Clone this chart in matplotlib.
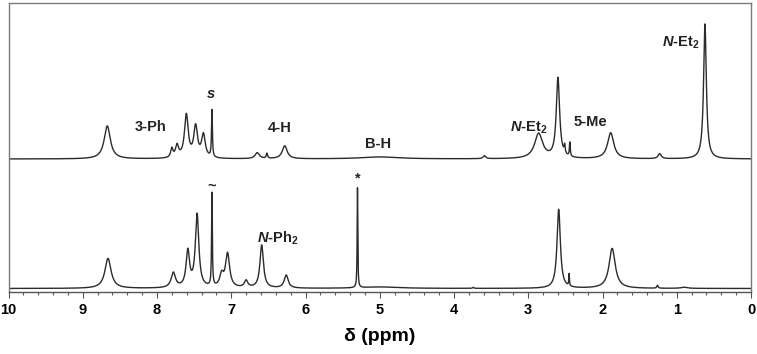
import matplotlib
matplotlib.use('Agg')
import matplotlib.pyplot as plt
import numpy as np
from matplotlib.ticker import MultipleLocator

plt.rcParams['font.family'] = ['Liberation Sans', 'DejaVu Sans']
plt.rcParams['mathtext.fontset'] = 'custom'
plt.rcParams['mathtext.rm'] = 'Liberation Sans:bold'
plt.rcParams['mathtext.it'] = 'Liberation Sans:bold:italic'
plt.rcParams['mathtext.bf'] = 'Liberation Sans:bold'

# peak lists: shift (ppm), height (px), half width (ppm)
top_ppm    = [8.67, 7.80, 7.73, 7.605, 7.48, 7.375, 7.26, 6.65, 6.52, 6.28, 5.00, 3.59, 2.86, 2.60, 2.51, 2.44, 1.89, 1.23, 0.62]
top_height = [33, 9, 12, 43, 31, 23, 47, 6, 5, 13, 2, 3, 25, 80, 8, 14, 26, 5, 135]
top_width  = [0.05, 0.018, 0.025, 0.03, 0.03, 0.03, 0.007, 0.035, 0.01, 0.04, 0.3, 0.02, 0.065, 0.027, 0.008, 0.007, 0.05, 0.025, 0.022]

bot_ppm    = [8.66, 7.78, 7.585, 7.46, 7.26, 7.13, 7.05, 6.80, 6.59, 6.26, 5.30, 5.00, 3.74, 2.59, 2.45, 1.87, 1.26, 0.90]
bot_height = [30, 15, 36, 73, 93, 12, 34, 7, 43, 13, 100, 1.5, 1, 79, 12, 40, 3, 1.2]
bot_width  = [0.05, 0.035, 0.028, 0.028, 0.006, 0.03, 0.033, 0.028, 0.028, 0.032, 0.005, 0.3, 0.01, 0.027, 0.005, 0.05, 0.01, 0.05]

top_offset = 132.5
bot_offset = 3.0

# annotations: text, ppm, height
labels = [
    ('3-Ph', 8.09, 164.5),
    ('$s$', 7.27, 197.5),
    ('4-H', 6.35, 163.5),
    ('B-H', 5.02, 147.5),
    ('$N$-Et$_2$', 3.00, 163.5),
    ('5-Me', 2.16, 169.5),
    ('$N$-Et$_2$', 0.94, 248.5),
    ('~', 7.26, 105.5),
    ('*', 5.30, 113.5),
    ('$N$-Ph$_2$', 6.37, 53.5),
]


def spectrum(x, ppm, height, width):
    y = np.zeros_like(x)
    for p, h, w in zip(ppm, height, width):
        y += h * w**2 / ((x - p)**2 + w**2)
    return y


x = np.linspace(10, 0, 20001)

fig = plt.figure(figsize=(7.57, 3.54), dpi=100)
ax = fig.add_axes([8.5 / 757, 1 - 291.5 / 354, (751 - 8.5) / 757, 288.5 / 354])

ax.plot(x, top_offset + spectrum(x, top_ppm, top_height, top_width), color='#2b2b2b', lw=1.0)
ax.plot(x, bot_offset + spectrum(x, bot_ppm, bot_height, bot_width), color='#2b2b2b', lw=1.0)

for txt, px, py in labels:
    ax.text(px, py, txt, ha='center', va='center', fontsize=10.5, fontweight='bold', color='#222222')

ax.set_xlim(10, 0)
ax.set_ylim(0, 288.5)
ax.set_yticks([])
ax.xaxis.set_major_locator(MultipleLocator(1))
ax.xaxis.set_minor_locator(MultipleLocator(0.2))
ax.tick_params(axis='x', which='major', direction='out', length=4, width=0.8, color='#555555',
               labelsize=10.5, pad=4)
ax.tick_params(axis='x', which='minor', direction='out', length=2.5, width=0.8, color='#555555')
for lab in ax.get_xticklabels():
    lab.set_fontweight('bold')
for s in ax.spines.values():
    s.set_color('#7a7a7a')
    s.set_linewidth(1.0)
ax.spines['bottom'].set_color('#555555')

ax.set_xlabel('δ (ppm)', fontsize=14, fontweight='bold', labelpad=8)

fig.savefig('out.png', dpi=100)
